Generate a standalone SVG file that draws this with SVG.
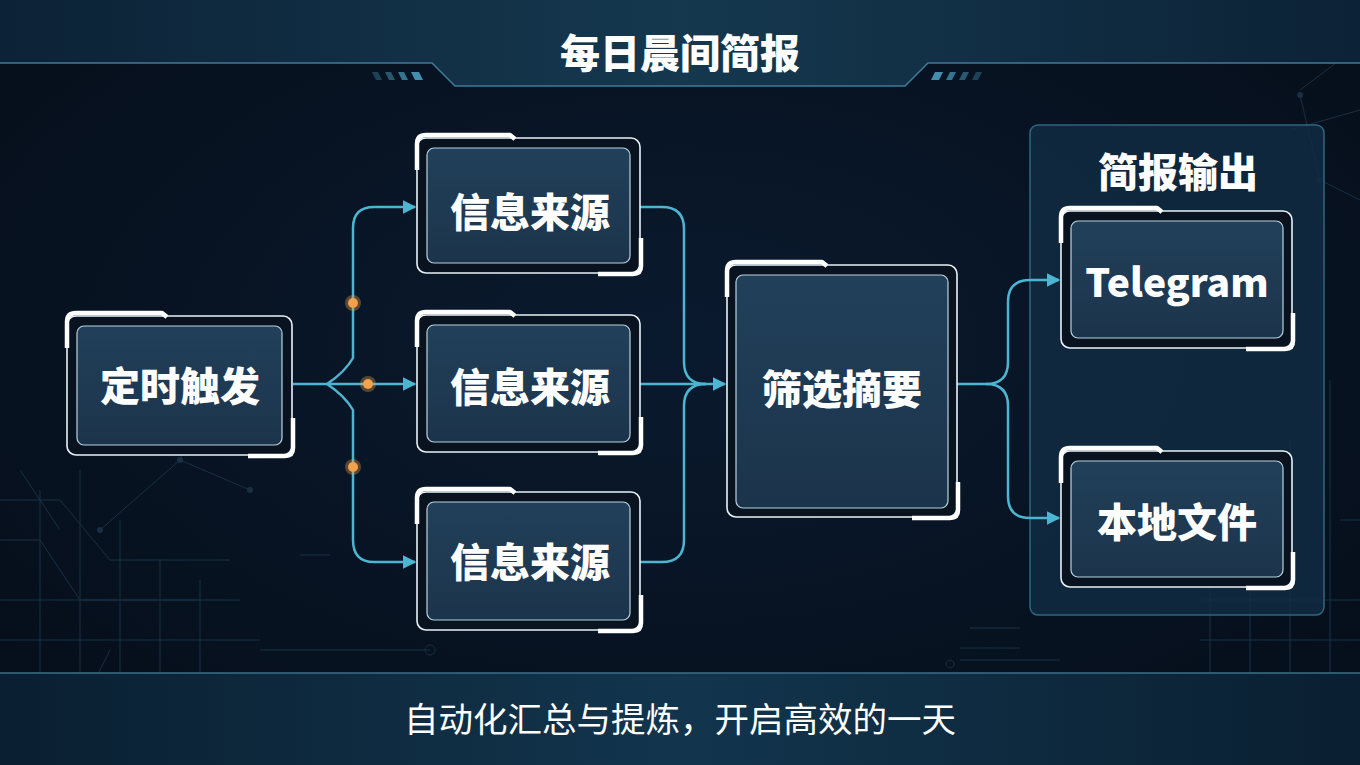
<svg xmlns="http://www.w3.org/2000/svg" width="1360" height="765" viewBox="0 0 1360 765">
<defs>
<radialGradient id="bg" cx="0.5" cy="0.45" r="0.75">
<stop offset="0" stop-color="#0a1a2e"/>
<stop offset="1" stop-color="#050d18"/>
</radialGradient>
<linearGradient id="hdr" x1="0" y1="0" x2="1" y2="0">
<stop offset="0" stop-color="#0c2236"/>
<stop offset="0.5" stop-color="#15384f"/>
<stop offset="1" stop-color="#0c2236"/>
</linearGradient>
<linearGradient id="ftr" x1="0" y1="0" x2="1" y2="0">
<stop offset="0" stop-color="#0a1f31"/>
<stop offset="0.5" stop-color="#12354d"/>
<stop offset="1" stop-color="#0a1f31"/>
</linearGradient>
<linearGradient id="inner" x1="0" y1="0" x2="0" y2="1">
<stop offset="0" stop-color="#22405a"/>
<stop offset="1" stop-color="#1b344b"/>
</linearGradient>
<marker id="arr" viewBox="0 0 10 10" refX="9" refY="5" markerWidth="5.5" markerHeight="5.5" orient="auto" markerUnits="strokeWidth">
<path d="M0,0 L10,5 L0,10 Z" fill="#4cb6d2"/>
</marker>
<style>
.outer{fill:#08131f;stroke:#e8f2f8;stroke-width:1.6}
.in{fill:url(#inner);stroke:#b8d2e0;stroke-width:1.2}
.thick{fill:none;stroke:#ffffff;stroke-width:4.5;stroke-linejoin:round}
.lbl{font-family:"Noto Sans CJK SC","Noto Sans",sans-serif;font-weight:900;fill:#ffffff;text-anchor:middle;dominant-baseline:central}
.con{fill:none;stroke:#4cb6d2;stroke-width:2.5}
.deco{fill:none;stroke:#1c3448;stroke-width:1}
.dot{fill:#f2a24a}
.halo{fill:#f2a24a;opacity:0.35}
</style>
</defs>
<rect width="1360" height="765" fill="url(#bg)"/>
<!-- decorative background -->
<g id="decor" opacity="0.9">
<path class="deco" d="M0 500 H60 L110 560 H230 M0 540 H40 L80 600 H200 M40 700 V490 M80 700 V470 M120 700 V520 M160 700 V560 M200 700 V580 M0 600 H240 M0 640 H260 M0 680 H290"/>
<path class="deco" d="M100 530 L180 460 L250 490 M180 460 L200 400 M60 530 L20 470"/>
<circle cx="180" cy="460" r="3" fill="#1c3448"/><circle cx="250" cy="490" r="3" fill="#1c3448"/><circle cx="100" cy="530" r="3" fill="#1c3448"/>
<path class="deco" d="M300 555 H330 M260 650 H430 M430 645 a5 5 0 1 0 0.1 0 M110 650 L90 690"/>
<path class="deco" d="M1210 560 V700 M1250 500 V700 M1290 440 V700 M1330 380 V700 M1200 600 H1360 M1200 640 H1360 M1200 680 H1360 M1340 520 H1360"/>
<path class="deco" d="M960 660 H1060 M950 660 a4 4 0 1 0 0.1 0 M1300 90 L1340 60 M1290 130 L1360 110 M1300 95 L1320 180 L1360 200"/>
<circle cx="1300" cy="95" r="3" fill="#1c3448"/><circle cx="1320" cy="180" r="3" fill="#1c3448"/>
<path class="deco" d="M970 628 H1020 M960 648 H1020"/>
</g>
<!-- header -->
<g id="header">
<path d="M0 0 H1360 V63 H928 L905 86 H455 L432 63 H0 Z" fill="url(#hdr)"/>
<path d="M0 63 H432 L455 86 H905 L928 63 H1360" fill="none" stroke="#3f7a96" stroke-width="1.5"/>
<g fill="#4a9cbc">
<path d="M372 72 h6 l4 8 h-6 Z" opacity="0.35"/><path d="M385 72 h6 l4 8 h-6 Z" opacity="0.5"/><path d="M398 72 h6 l4 8 h-6 Z" opacity="0.7"/><path d="M411 72 h8 l4 8 h-8 Z" opacity="0.9"/>
<path d="M935 72 h8 l-4 8 h-8 Z" opacity="0.9"/><path d="M950 72 h6 l-4 8 h-6 Z" opacity="0.7"/><path d="M963 72 h6 l-4 8 h-6 Z" opacity="0.5"/><path d="M976 72 h6 l-4 8 h-6 Z" opacity="0.35"/>
</g>
<text class="lbl" x="680" y="51" font-size="40">每日晨间简报</text>
</g>
<!-- footer -->
<g id="footer">
<rect x="0" y="673" width="1360" height="92" fill="url(#ftr)"/>
<line x1="0" y1="673" x2="1360" y2="673" stroke="#3d6f88" stroke-width="1.5"/>
<text x="680" y="717" font-family="Noto Sans CJK SC, sans-serif" font-size="34.5" fill="#ffffff" text-anchor="middle" dominant-baseline="central">自动化汇总与提炼，开启高效的一天</text>
</g>
<!-- output panel -->
<g id="output-panel">
<rect x="1030" y="125" width="294" height="490" rx="8" fill="#112c42" fill-opacity="0.85" stroke="#2f6680" stroke-width="1.5"/>
<text class="lbl" x="1178" y="170" font-size="40">简报输出</text>
</g>
<!-- connectors -->
<g id="connectors">
<path class="con" d="M293 384 H327"/>
<path class="con" d="M327 384 Q345 372 353 358 V228 Q353 207 374 207 H415" marker-end="url(#arr)"/>
<path class="con" d="M327 384 H415" marker-end="url(#arr)"/>
<path class="con" d="M327 384 Q345 396 353 410 V540 Q353 562 374 562 H415" marker-end="url(#arr)"/>
<path class="con" d="M640 207 H662 Q684 207 684 229 V362 Q684 384 706 384"/>
<path class="con" d="M640 562 H662 Q684 562 684 540 V406 Q684 384 706 384"/>
<path class="con" d="M640 384 H725" marker-end="url(#arr)"/>
<path class="con" d="M957 384 H986 Q1008 384 1008 362 V302 Q1008 280 1030 280 H1059" marker-end="url(#arr)"/>
<path class="con" d="M986 384 Q1008 384 1008 406 V496 Q1008 518 1030 518 H1059" marker-end="url(#arr)"/>
<circle class="halo" cx="353" cy="303" r="8"/><circle class="dot" cx="353" cy="303" r="5"/>
<circle class="halo" cx="368" cy="384" r="8"/><circle class="dot" cx="368" cy="384" r="5"/>
<circle class="halo" cx="353" cy="467" r="8"/><circle class="dot" cx="353" cy="467" r="5"/>
</g>
<!-- nodes -->
<g id="trigger">
<rect class="outer" x="67" y="316" width="225" height="139" rx="9"/>
<rect class="in" x="77" y="326" width="205" height="119" rx="7"/>
<path class="thick" d="M67 348 V322 Q67 313 76 313 H162 L167 317"/>
<path class="thick" d="M293 418 V448 Q293 456 285 456 H248"/>
<text class="lbl" x="180" y="384" font-size="40">定时触发</text>
</g>
<g id="source1">
<rect class="outer" x="417" y="138" width="223" height="135" rx="9"/>
<rect class="in" x="427" y="148" width="203" height="115" rx="7"/>
<path class="thick" d="M417 170 V144 Q417 135 426 135 H510 L515 139"/>
<path class="thick" d="M641 238 V266 Q641 274 633 274 H598"/>
<text class="lbl" x="530" y="210" font-size="40">信息来源</text>
</g>
<g id="source2">
<rect class="outer" x="417" y="315" width="223" height="137" rx="9"/>
<rect class="in" x="427" y="325" width="203" height="117" rx="7"/>
<path class="thick" d="M417 347 V321 Q417 312 426 312 H510 L515 316"/>
<path class="thick" d="M641 417 V445 Q641 453 633 453 H598"/>
<text class="lbl" x="530" y="385" font-size="40">信息来源</text>
</g>
<g id="source3">
<rect class="outer" x="417" y="492" width="223" height="138" rx="9"/>
<rect class="in" x="427" y="502" width="203" height="118" rx="7"/>
<path class="thick" d="M417 524 V498 Q417 489 426 489 H510 L515 493"/>
<path class="thick" d="M641 595 V623 Q641 631 633 631 H598"/>
<text class="lbl" x="530" y="560" font-size="40">信息来源</text>
</g>
<g id="filter">
<rect class="outer" x="727" y="265" width="230" height="252" rx="9"/>
<rect class="in" x="736" y="275" width="212" height="233" rx="7"/>
<path class="thick" d="M727 297 V271 Q727 262 736 262 H822 L827 266"/>
<path class="thick" d="M958 482 V510 Q958 518 950 518 H912"/>
<text class="lbl" x="842" y="387" font-size="40">筛选摘要</text>
</g>
<g id="telegram">
<rect class="outer" x="1061" y="211" width="231" height="137" rx="9"/>
<rect class="in" x="1071" y="221" width="212" height="117" rx="7"/>
<path class="thick" d="M1061 243 V217 Q1061 208 1070 208 H1157 L1162 212"/>
<path class="thick" d="M1293 313 V341 Q1293 349 1285 349 H1246"/>
<text class="lbl" x="1177" y="280" font-size="39" font-family="Liberation Sans, Noto Sans, sans-serif">Telegram</text>
</g>
<g id="localfile">
<rect class="outer" x="1061" y="451" width="231" height="136" rx="9"/>
<rect class="in" x="1071" y="461" width="212" height="116" rx="7"/>
<path class="thick" d="M1061 483 V457 Q1061 448 1070 448 H1157 L1162 452"/>
<path class="thick" d="M1293 552 V580 Q1293 588 1285 588 H1246"/>
<text class="lbl" x="1177" y="520" font-size="40">本地文件</text>
</g>
</svg>
